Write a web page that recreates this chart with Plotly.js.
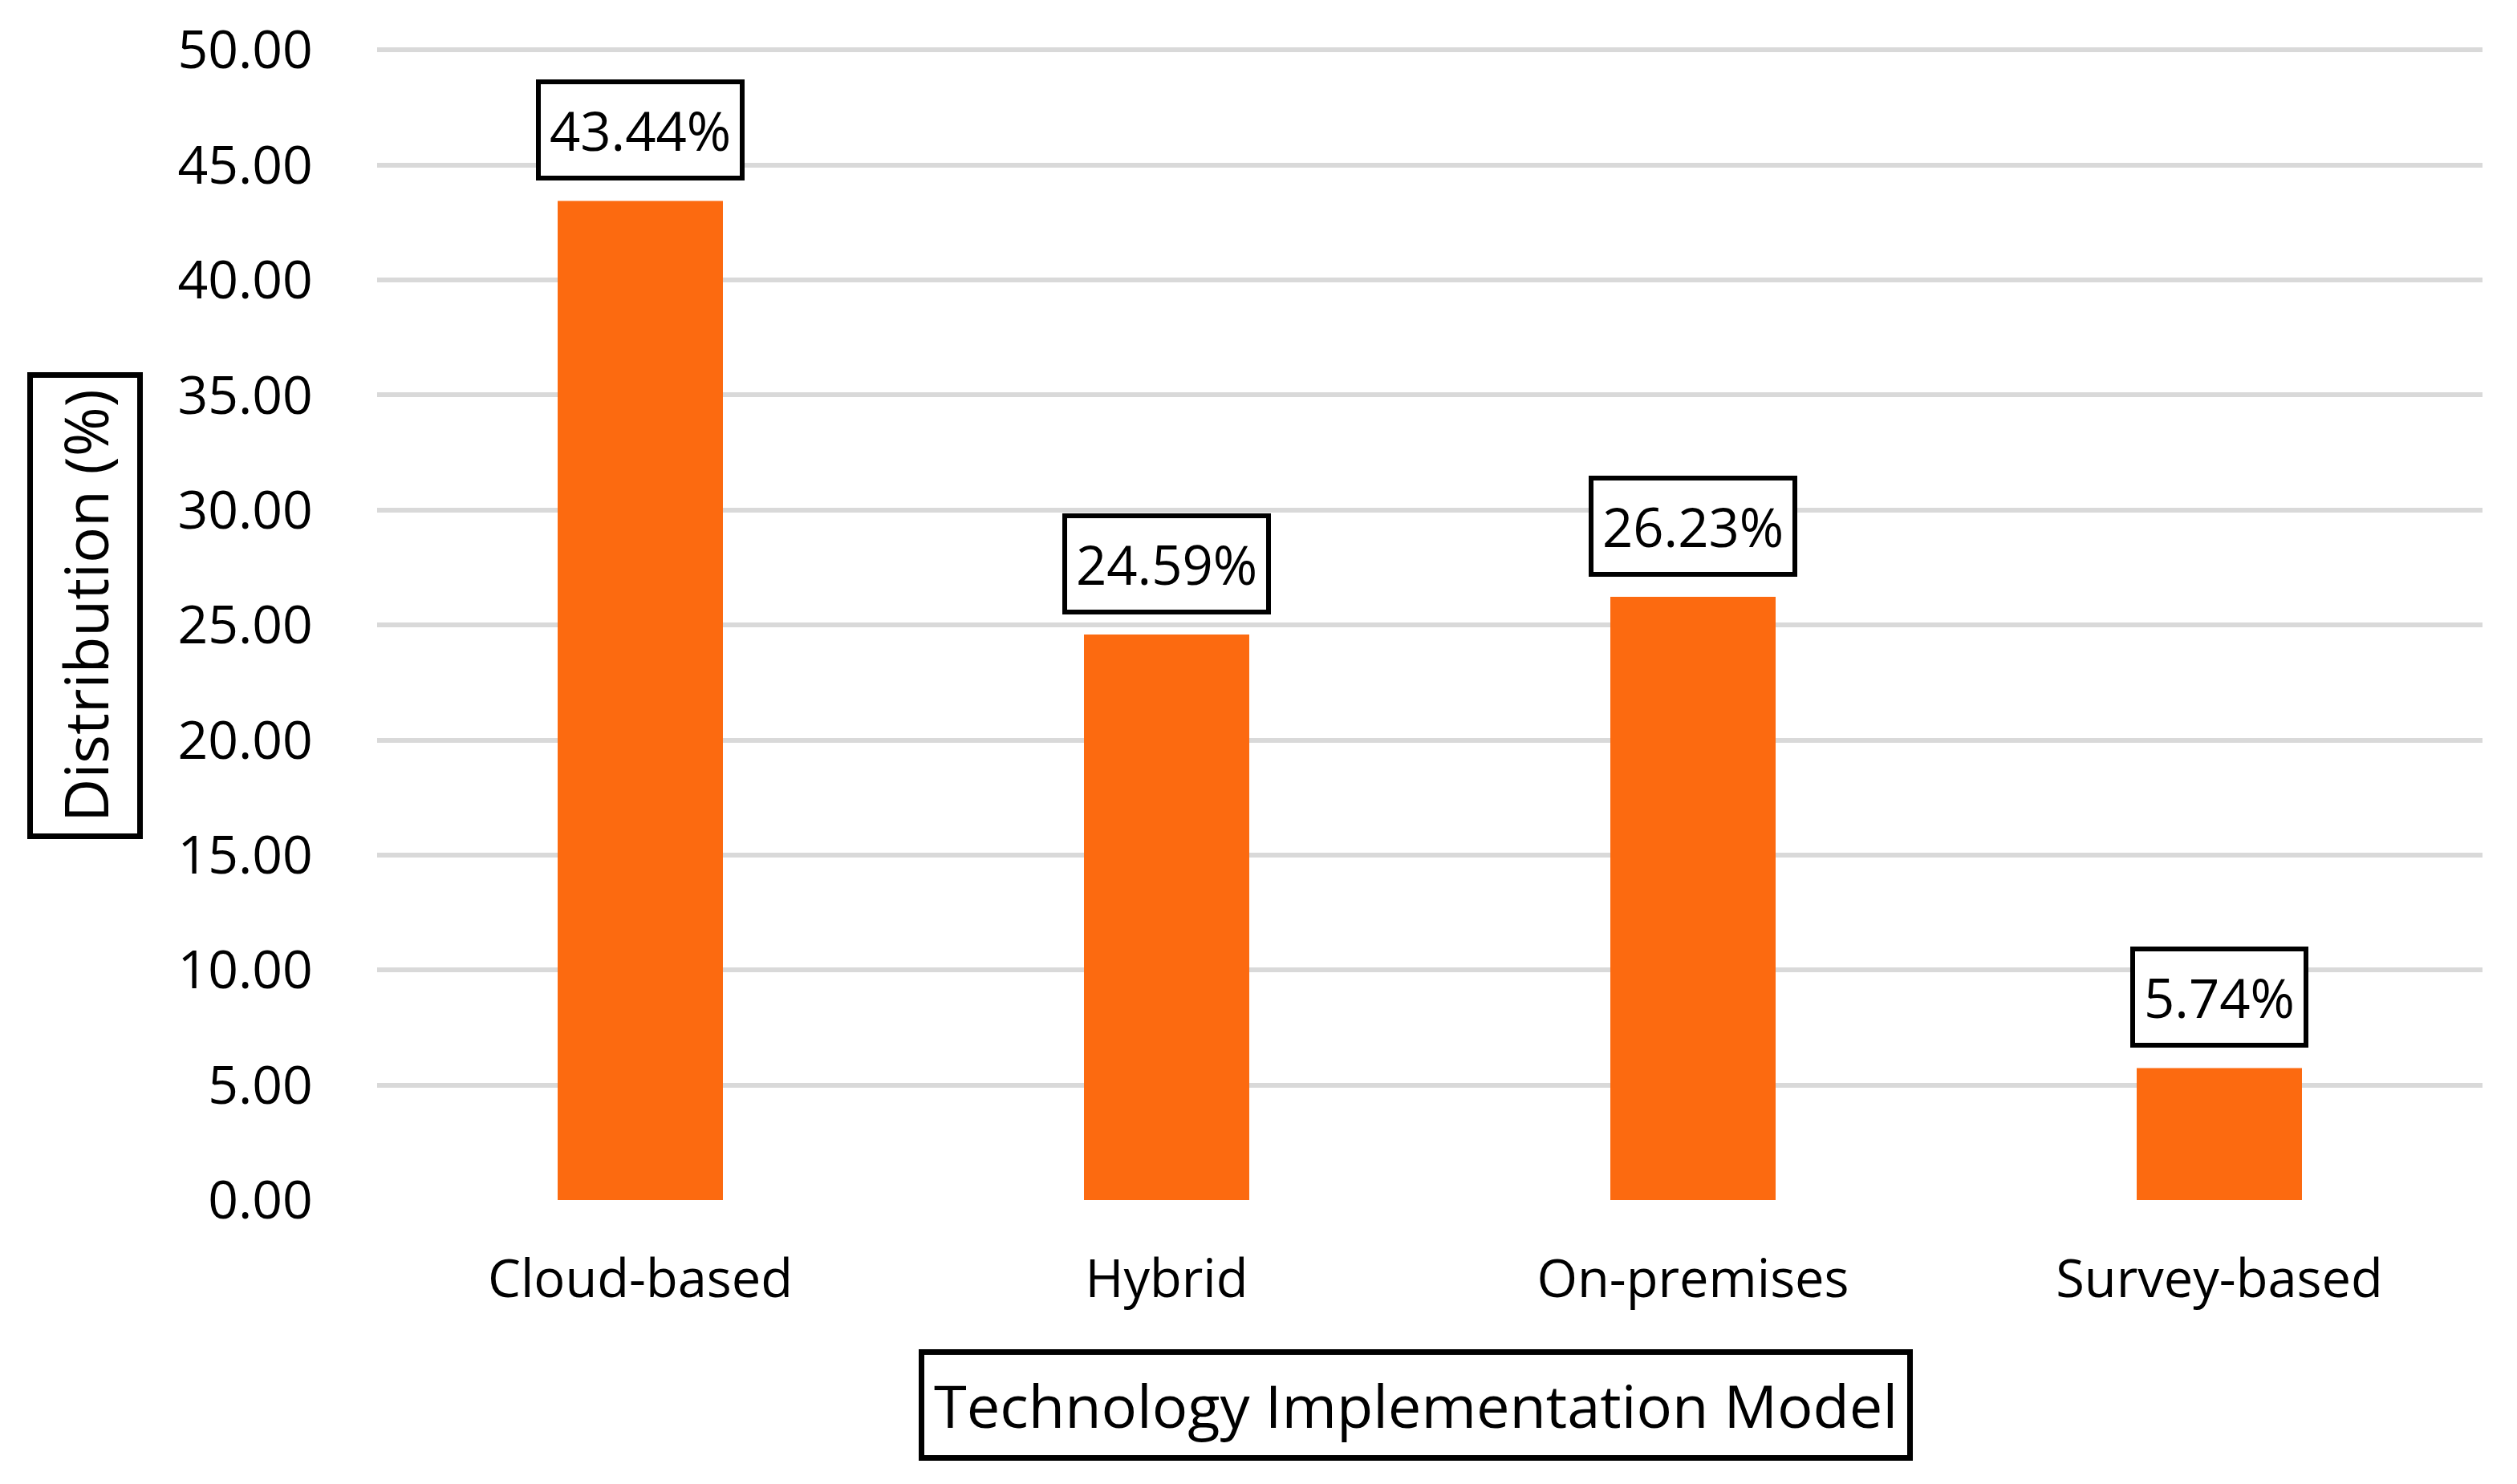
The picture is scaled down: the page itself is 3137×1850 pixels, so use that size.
<!DOCTYPE html>
<html>
<head>
<meta charset="utf-8">
<script src="https://cdn.plot.ly/plotly-3.0.1.min.js"></script>
<style>
html,body{margin:0;padding:0;background:#fff;}
#chart{width:3137px;height:1850px;}
</style>
</head>
<body>
<div id="chart"></div>
<script>
const categories = ["Cloud-based", "Hybrid", "On-premises", "Survey-based"];
const values = [43.44, 24.59, 26.23, 5.74];
const yTickVals = [0, 5, 10, 15, 20, 25, 30, 35, 40, 45, 50];
const xTitle = "Technology Implementation Model";
const yTitle = "Distribution (%)";

const FONT = "Open Sans, Noto Sans, DejaVu Sans, sans-serif";

const trace = {
  type: "bar",
  x: categories,
  y: values,
  marker: {color: "#FC6A10", line: {width: 0}},
  width: 0.314,
  hoverinfo: "skip"
};

const labelAnns = categories.map((c, i) => ({
  x: c, y: values[i], xref: "x", yref: "y",
  text: values[i].toFixed(2) + "%",
  showarrow: false,
  yanchor: "bottom",
  yshift: 25,
  font: {family: FONT, size: 67, color: "#000"},
  bordercolor: "#000",
  borderwidth: 6,
  borderpad: 11,
  bgcolor: "#fff"
}));

// plot area: x 470..3094, y 48..1496 (range 0..50.5)
const plotH = 1448;
const titleAnns = [
  {
    xref: "paper", yref: "paper",
    x: (1764 - 470) / 2624, y: (1496 - 1751) / plotH,
    xanchor: "center", yanchor: "middle",
    text: xTitle, showarrow: false,
    font: {family: FONT, size: 74, color: "#000"},
    bordercolor: "#000", borderwidth: 7, borderpad: 12, bgcolor: "#fff"
  },
  {
    xref: "paper", yref: "paper",
    x: (106 - 470) / 2624, y: (1496 - 755) / plotH,
    xanchor: "center", yanchor: "middle",
    text: yTitle, showarrow: false, textangle: -90,
    font: {family: FONT, size: 75, color: "#000"},
    bordercolor: "#000", borderwidth: 7, borderpad: 14, bgcolor: "#fff"
  }
];

const layout = {
  width: 3137, height: 1850,
  margin: {l: 470, r: 43, t: 48, b: 354, pad: 0},
  paper_bgcolor: "#fff", plot_bgcolor: "#fff",
  showlegend: false,
  font: {family: FONT, color: "#000"},
  xaxis: {
    type: "category",
    showgrid: false, showline: false, zeroline: false,
    ticks: "outside", ticklen: 0, tickcolor: "rgba(0,0,0,0)",
    ticklabelstandoff: 42,
    tickfont: {family: FONT, size: 65, color: "#000"}
  },
  yaxis: {
    range: [0, 50.5],
    tickvals: yTickVals,
    tickformat: ".2f",
    showgrid: true, gridcolor: "#d9d9d9", gridwidth: 6,
    zeroline: false, showline: false,
    ticks: "outside", ticklen: 0, tickcolor: "rgba(0,0,0,0)",
    ticklabelstandoff: 66,
    tickfont: {family: FONT, size: 66, color: "#000"}
  },
  annotations: labelAnns.concat(titleAnns)
};

Plotly.newPlot("chart", [trace], layout, {staticPlot: true, displayModeBar: false});
</script>
</body>
</html>
